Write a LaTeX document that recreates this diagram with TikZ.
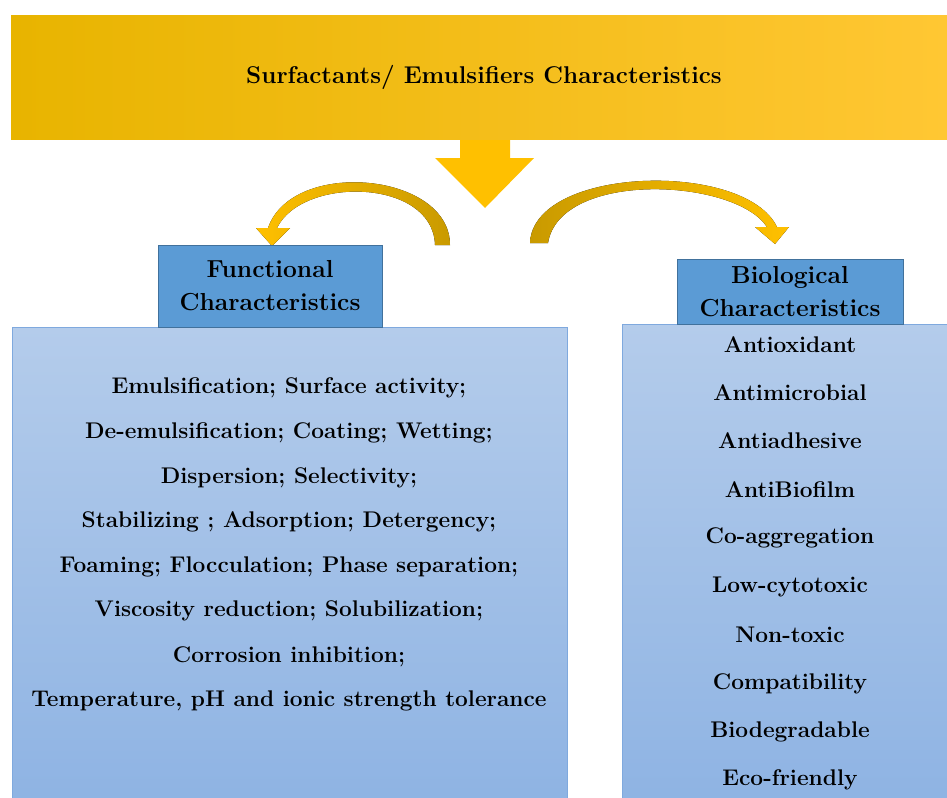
\documentclass[tikz,border=0pt]{standalone}
\usepackage{xcolor}
\usepackage{tikz}
\definecolor{goldL}{HTML}{E8B400}
\definecolor{goldR}{HTML}{FFC733}
\definecolor{goldArrow}{HTML}{FFC000}
\definecolor{goldDark}{HTML}{C99A00}
\definecolor{headBlue}{HTML}{5B9BD5}
\definecolor{headEdge}{HTML}{41719C}
\definecolor{listTop}{HTML}{B4CCEB}
\definecolor{listBot}{HTML}{8EB3E3}
\definecolor{listEdge}{HTML}{7FA9DE}
\tikzset{head box/.style={draw=headEdge,fill=headBlue,align=center,inner sep=0pt,font=\fontsize{14}{18.8}\selectfont\bfseries},
	list box/.style={draw=listEdge,top color=listTop,bottom color=listBot,inner sep=0pt},
	list item/.style={font=\fontsize{12.9}{14}\selectfont\bfseries,inner sep=0pt}}

\begin{document}
\begin{tikzpicture}[x=0.02cm,y=-0.02cm]
				\useasboundingbox (0,0) rectangle (947,798);
				% banner
				\node[left color=goldL,right color=goldR,minimum width=18.72cm,minimum height=2.5cm,inner sep=0pt] (banner) at (479,77.5) {};
				\node[font=\fontsize{13.8}{16}\selectfont\bfseries] (title) at (484,77) {Surfactants/ Emulsifiers Characteristics};
				% down arrow
				\fill[goldArrow] (460,140) -- (510,140) -- (510,158) -- (534,158) -- (485,208) -- (435,158) -- (460,158) -- cycle;
				% curved arrows
				\fill[left color=goldArrow,right color=goldDark] (450,245) .. controls (450,172) and (292,158) .. (268,228) -- (256,228) -- (272,246) -- (290,228) -- (277,228) .. controls (302,176) and (433,178) .. (435,245) -- cycle;
				\fill[left color=goldDark,right color=goldArrow] (530,243) .. controls (533,166) and (745,160) .. (777,227) -- (789,227) -- (775,244) -- (755,227) -- (767,227) .. controls (735,178) and (560,170) .. (548,243) -- cycle;
				% list boxes
				\node[list box,minimum width=11.1cm,minimum height=9.6cm] (funcbox) at (289.5,567) {};
				\node[list box,minimum width=6.56cm,minimum height=9.66cm] (biobox) at (786,565.5) {};
				% headers
				\node[head box,minimum width=4.48cm,minimum height=1.64cm] (func) at (270,286) {Functional\\Characteristics};
				\node[head box,minimum width=4.52cm,minimum height=1.3cm] (bio) at (790,291.5) {Biological\\Characteristics};
				% functional items
				\node[list item] (f1) at (289,388) {Emulsification; Surface activity;};
				\node[list item] (f2) at (289,433) {De-emulsification; Coating; Wetting;};
				\node[list item] (f3) at (289,478) {Dispersion; Selectivity;};
				\node[list item] (f4) at (289,522) {Stabilizing ; Adsorption; Detergency;};
				\node[list item] (f5) at (289,567) {Foaming; Flocculation; Phase separation;};
				\node[list item] (f6) at (289,611) {Viscosity reduction; Solubilization;};
				\node[list item] (f7) at (289,657) {Corrosion inhibition;};
				\node[list item] (f8) at (289,701) {Temperature, pH and ionic strength tolerance};
				% biological items
				\node[list item] (b1) at (790,345) {Antioxidant};
				\node[list item] (b2) at (790,393) {Antimicrobial};
				\node[list item] (b3) at (790,441) {Antiadhesive};
				\node[list item] (b4) at (790,490) {AntiBiofilm};
				\node[list item] (b5) at (790,538) {Co-aggregation};
				\node[list item] (b6) at (790,587) {Low-cytotoxic};
				\node[list item] (b7) at (790,635) {Non-toxic};
				\node[list item] (b8) at (790,684) {Compatibility};
				\node[list item] (b9) at (790,732) {Biodegradable};
				\node[list item] (b10) at (790,780) {Eco-friendly};
			\end{tikzpicture}
\end{document}
